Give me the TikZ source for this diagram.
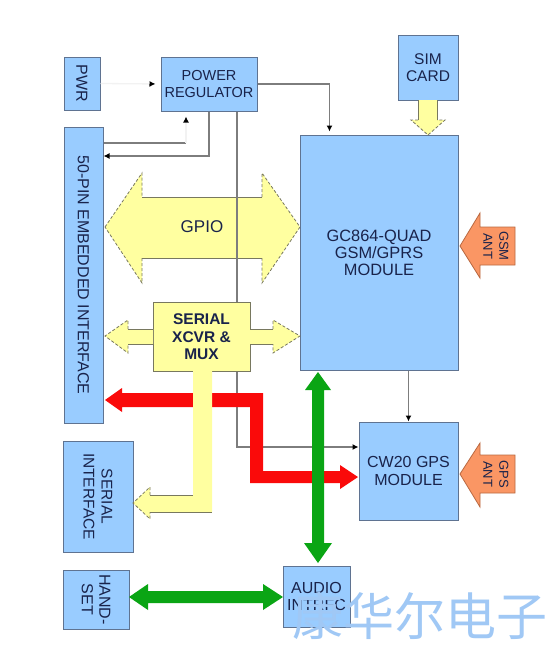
\documentclass[tikz,border=0pt]{standalone}
\usepackage{fontspec}
\setmainfont{Liberation Sans}
\newfontfamily\cjk{Noto Sans CJK SC}
\usetikzlibrary{arrows.meta}
\definecolor{boxblue}{RGB}{153,204,255}
\definecolor{boxedge}{RGB}{95,115,145}
\definecolor{txt}{RGB}{25,35,75}
\definecolor{lineg}{RGB}{125,125,125}
\definecolor{yel}{RGB}{255,255,160}
\definecolor{yeledge}{RGB}{120,120,95}
\definecolor{redarr}{RGB}{250,10,10}
\definecolor{greenarr}{RGB}{10,165,20}
\definecolor{orng}{RGB}{250,150,100}
\definecolor{orngedge}{RGB}{185,105,65}
\definecolor{wmark}{RGB}{160,200,245}
\begin{document}
\begin{tikzpicture}[x=1pt,y=-1pt,
  box/.style={draw=boxedge, line width=1pt, fill=boxblue, inner sep=0pt, align=center, text=txt, font=\fontsize{16}{17.5}\selectfont},
  ybox/.style={box, fill=yel, draw=yeledge},
  conn/.style={draw=lineg, line width=1.3pt},
  faint/.style={draw=black!5, line width=1.3pt},
  tipb/.style={-{Latex[length=6pt,width=6pt,color=black]}},
  yfill/.style={fill=yel},
  yline/.style={draw=yeledge, line width=0.8pt, densely dashed},
  ysolid/.style={draw=yeledge, line width=0.9pt},
  ofill/.style={fill=orng, draw=orngedge, line width=0.8pt},
  anttext/.style={text=txt, font=\fontsize{13}{16}\selectfont, align=center, rotate=-90, inner sep=0pt}
]
\useasboundingbox[fill=white] (0,0) rectangle (560,654);

% GPIO double arrow
\fill[yfill] (105,227) -- (142,173) -- (142,197) -- (262,197) -- (262,173) -- (300,227) -- (262,283) -- (262,258) -- (142,258) -- (142,283) -- cycle;
\draw[yline] (105,227) -- (142,173) -- (142,197) (262,197) -- (262,173) -- (300,227) -- (262,283) -- (262,258) (142,258) -- (142,283) -- (105,227);
\draw[ysolid] (142,197) -- (262,197) (142,258) -- (262,258);
\node[text=txt, font=\fontsize{17}{17}\selectfont] (gpio) at (202,227) {GPIO};

% boxes
\node[box, rotate=-90, minimum width=53pt, minimum height=36pt] (pwr) at (82,83.5) {PWR};
\node[box, minimum width=96pt, minimum height=54pt, font=\fontsize{14.5}{17}\selectfont] (reg) at (209,84) {POWER\\REGULATOR};
\node[box, minimum width=60pt, minimum height=65pt, font=\fontsize{15.5}{17}\selectfont] (sim) at (428,67.5) {SIM\\CARD};
\node[box, minimum width=158pt, minimum height=235pt, font=\fontsize{16.4}{17}\selectfont] (gsm) at (379,252.5) {GC864-QUAD\\GSM/GPRS\\MODULE};
\node[box, rotate=-90, minimum width=296pt, minimum height=39pt] (pin) at (83.5,275) {50-PIN EMBEDDED INTERFACE};
\node[box, rotate=-90, minimum width=111pt, minimum height=70pt, font=\fontsize{15.5}{18}\selectfont] (serif) at (98,496.5) {SERIAL\\INTERFACE};
\node[box, minimum width=99pt, minimum height=98pt] (gps) at (408.5,471) {CW20 GPS\\MODULE};
\node[box, rotate=-90, minimum width=59pt, minimum height=66pt] (hand) at (96,599.5) {HAND-\\SET};
\node[box, minimum width=67pt, minimum height=61pt] (audio) at (316.5,596.5) {AUDIO\\INTRFC};

% thin connectors
\draw[faint, tipb, shorten >=5pt] (pwr.north) -- (reg.west);
\draw[conn, tipb, shorten >=3pt] (reg.east) -| ([xshift=30pt]gsm.north west);
\draw[conn, tipb] (reg.south) |- (pin.north |- 0,156);
\draw[conn] (pin.north |- 0,143) -- (186,143);
\draw[faint, tipb, shorten >=5pt] (186,143) -- (reg.south -| 186,0);
\draw[conn, tipb] ([xshift=28pt]reg.south) |- ([yshift=24pt]gps.west);
\draw[conn, tipb] (gsm.south -| gps.north) -- (gps.north);

% serial box
\node[ybox, minimum width=97pt, minimum height=69pt, font=\bfseries\fontsize{15.5}{17.5}\selectfont] (ser) at (201.5,337) {SERIAL\\XCVR \&\\MUX};

% serial side arrows
\fill[yfill] (105,336) -- (128,320) -- (128,329) -- (153,329) -- (153,344) -- (128,344) -- (128,353) -- cycle;
\draw[yline] (128,329) -- (128,320) -- (105,336) -- (128,353) -- (128,344);
\draw[ysolid] (128,329) -- (153,329) (128,344) -- (153,344);
\fill[yfill] (250,329) -- (273,329) -- (273,320) -- (300,336) -- (273,353) -- (273,344) -- (250,344) -- cycle;
\draw[yline] (273,329) -- (273,320) -- (300,336) -- (273,353) -- (273,344);
\draw[ysolid] (250,329) -- (273,329) (250,344) -- (273,344);

% red arrow
\fill[redarr] (105,400) -- (122,388) -- (122,393) -- (263,393) -- (263,471) -- (340,471) -- (340,465) -- (358,477) -- (340,489) -- (340,483) -- (250,483) -- (250,407) -- (122,407) -- (122,412) -- cycle;

% yellow L arrow to serial interface
\fill[yfill] (193,371) -- (212,371) -- (212,512) -- (150,512) -- (150,519) -- (133,503) -- (150,487) -- (150,495) -- (193,495) -- cycle;
\draw[yline] (150,495) -- (150,487) -- (133,503) -- (150,519) -- (150,512);
\draw[ysolid] (150,495) -- (193,495) (150,512) -- (212,512);

% green arrows
\fill[greenarr] (318,372) -- (331,390) -- (324,390) -- (324,543) -- (332,543) -- (318,563) -- (304,543) -- (312,543) -- (312,390) -- (305,390) -- cycle;
\fill[greenarr] (129,597) -- (148,584) -- (148,591) -- (263,591) -- (263,584) -- (283,597) -- (263,610) -- (263,603) -- (148,603) -- (148,610) -- cycle;

% SIM arrow
\fill[yfill] (418,100) -- (437,100) -- (437,120) -- (445,120) -- (428,135) -- (411,120) -- (418,120) -- cycle;
\draw[ysolid] (418,100) -- (418,120) (437,100) -- (437,120);
\draw[yline] (418,120) -- (411,120) -- (428,135) -- (445,120) -- (437,120);

% antennas
\draw[ofill] (460,246) -- (480,213) -- (480,227) -- (515,227) -- (515,265) -- (480,265) -- (480,278) -- cycle;
\node[anttext] (gsmant) at (496,246) {GSM\\ANT};
\draw[ofill] (460,474) -- (480,443) -- (480,455) -- (515,455) -- (515,493) -- (480,493) -- (480,507) -- cycle;
\node[anttext] (gpsant) at (496,474) {GPS\\ANT};

% watermark
\node[text=wmark, font=\cjk\fontsize{51}{51}\selectfont, inner sep=0pt] (wm) at (420,616) {康华尔电子};
\end{tikzpicture}
\end{document}
